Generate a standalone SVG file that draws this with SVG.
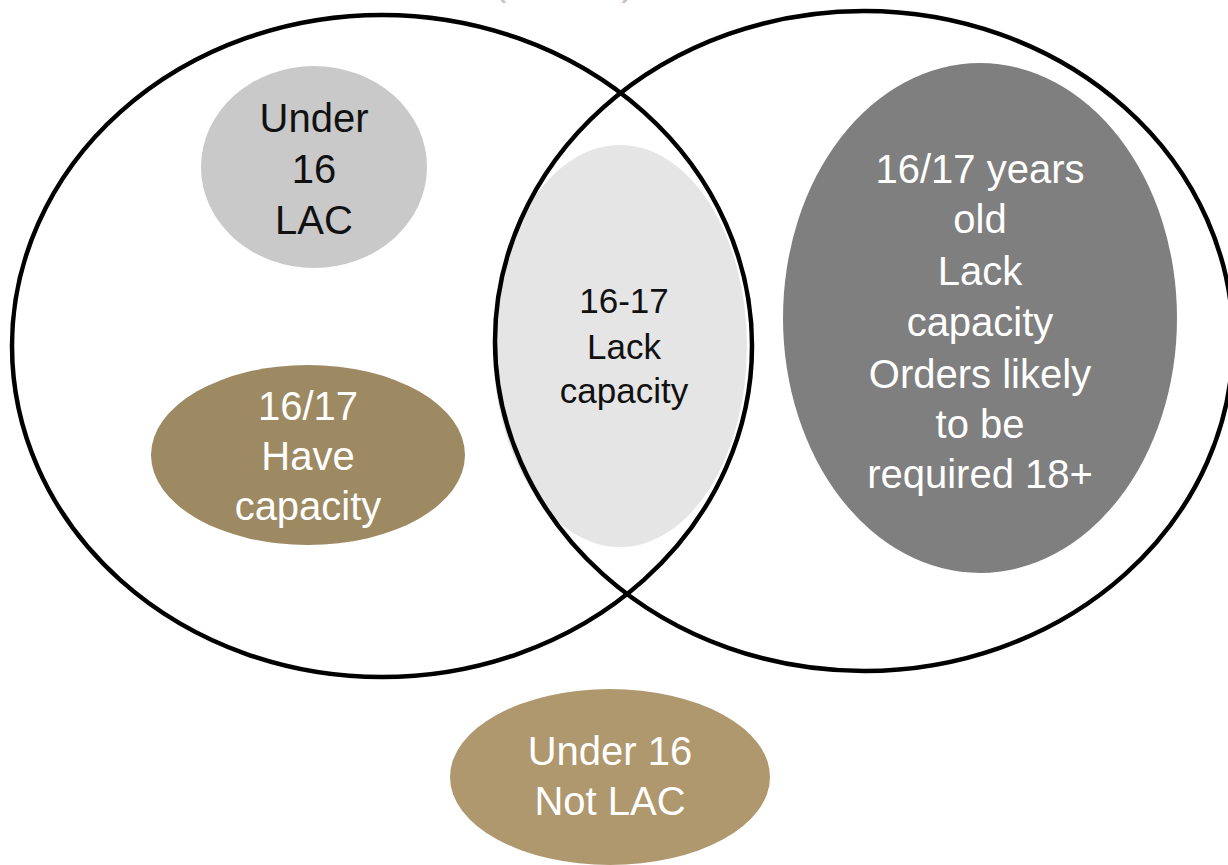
<svg xmlns="http://www.w3.org/2000/svg" width="1228" height="865" viewBox="0 0 1228 865">
<style>
.t{font-family:"Liberation Sans",Arial,sans-serif;font-size:40px;text-anchor:middle}
.s{font-size:35px}
.dk{fill:#111}
.wh{fill:#fff}
.ring{fill:none;stroke:#000;stroke-width:4.5}
</style>
<rect width="1228" height="865" fill="#fff"/>
<g id="top-label"><text class="t" x="500" y="-5" fill="#c4c4c4">(</text><text class="t" x="628" y="-5" fill="#c4c4c4">)</text></g>
<g id="n-lens"><ellipse cx="620" cy="346" rx="127" ry="201" fill="#e5e5e5"/>
<text class="t s dk" x="624" y="313">16-17</text><text class="t s dk" x="624" y="359">Lack</text><text class="t s dk" x="624" y="403">capacity</text></g>
<g id="n-under16lac"><ellipse cx="314" cy="167" rx="113" ry="101" fill="#c9c9c9"/>
<text class="t dk" x="314" y="132">Under</text><text class="t dk" x="314" y="183">16</text><text class="t dk" x="314" y="234">LAC</text></g>
<g id="n-have"><ellipse cx="308" cy="455" rx="157" ry="90" fill="#9d8a63"/>
<text class="t wh" x="308" y="420">16/17</text><text class="t wh" x="308" y="470">Have</text><text class="t wh" x="308" y="520">capacity</text></g>
<g id="n-lack"><ellipse cx="980" cy="318" rx="197" ry="255" fill="#7f7f7f"/>
<text class="t wh" x="980" y="183">16/17 years</text><text class="t wh" x="980" y="233">old</text><text class="t wh" x="980" y="285">Lack</text><text class="t wh" x="980" y="336">capacity</text><text class="t wh" x="980" y="388">Orders likely</text><text class="t wh" x="980" y="438">to be</text><text class="t wh" x="980" y="488">required 18+</text></g>
<g id="n-notlac"><ellipse cx="610" cy="777" rx="160" ry="88" fill="#af976e"/>
<text class="t wh" x="610" y="765">Under 16</text><text class="t wh" x="610" y="815">Not LAC</text></g>
<g id="rings">
<ellipse id="left-circle" class="ring" cx="382" cy="346" rx="370" ry="331"/>
<ellipse id="right-circle" class="ring" cx="864" cy="341" rx="369" ry="330"/>
</g>
</svg>
